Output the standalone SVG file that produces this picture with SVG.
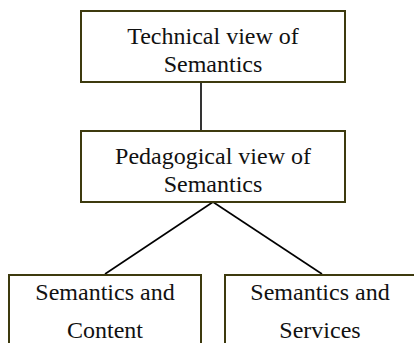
<svg xmlns="http://www.w3.org/2000/svg" width="414" height="343" viewBox="0 0 414 343">
<style>
.box{fill:#fff;stroke:#3d3a0e;stroke-width:2}
.t{font-family:"Liberation Serif","Times New Roman",serif;font-size:24px;fill:#111;text-anchor:middle}
.c{stroke:#000;stroke-width:1.6;fill:none}
</style>
<rect width="414" height="343" fill="#fff"/>
<g id="connectors">
<line class="c" x1="201" y1="83" x2="201" y2="131"/>
<line class="c" x1="213" y1="202" x2="105" y2="274"/>
<line class="c" x1="213" y1="202" x2="322" y2="274"/>
</g>
<g id="technical">
<rect class="box" x="81" y="11" width="264" height="71"/>
<text class="t" x="213" y="44">Technical view of</text>
<text class="t" x="213" y="72">Semantics</text>
</g>
<g id="pedagogical">
<rect class="box" x="81" y="131" width="264" height="71"/>
<text class="t" x="213" y="164">Pedagogical view of</text>
<text class="t" x="213" y="192">Semantics</text>
</g>
<g id="content">
<rect class="box" x="9" y="275" width="192" height="80"/>
<text class="t" x="105" y="300">Semantics and</text>
<text class="t" x="105" y="338">Content</text>
</g>
<g id="services">
<rect class="box" x="225" y="275" width="191" height="80"/>
<text class="t" x="320" y="300">Semantics and</text>
<text class="t" x="320" y="338">Services</text>
</g>
</svg>
